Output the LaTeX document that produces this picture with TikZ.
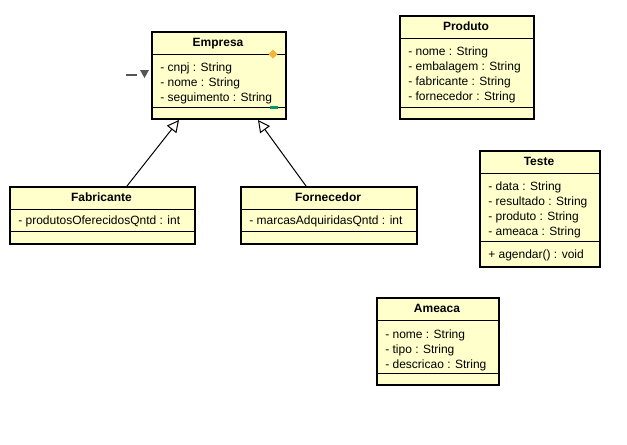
\documentclass[tikz,border=0pt]{standalone}
\usepackage{fontspec}
\setmainfont{Liberation Sans}
\usetikzlibrary{arrows.meta}
\definecolor{classfill}{HTML}{FFFFCC}
\definecolor{markgray}{HTML}{555555}
\definecolor{markorange}{HTML}{F8B334}
\definecolor{markgreen}{HTML}{009966}
\newcommand{\upx}{0.75pt}

\tikzset{
    classbox/.style={draw=black, line width=1.5pt, fill=classfill, inner sep=0pt, anchor=north west},
    sepline/.style={line width=0.75pt},
    classname/.style={font=\bfseries\fontsize{9}{11}\selectfont, inner sep=0pt, text height=1.5ex, text depth=0.25ex},
    member/.style={font=\fontsize{9}{11}\selectfont, anchor=west, inner sep=0pt, text height=1.5ex, text depth=0.25ex},
    inherit/.style={line width=0.75pt, -{Triangle[open, length=9pt, width=9pt]}},
}

\begin{document}
\begin{tikzpicture}[x=0.75pt, y=-0.75pt]
    \useasboundingbox (0,0) rectangle (627,444);

    % Class boxes
    \node[classbox, minimum width=134*\upx, minimum height=87*\upx] (empresa) at (151,31) {};
    \node[classbox, minimum width=134*\upx, minimum height=103*\upx] (produto) at (399,15) {};
    \node[classbox, minimum width=120*\upx, minimum height=116*\upx] (teste) at (479,150) {};
    \node[classbox, minimum width=185*\upx, minimum height=57*\upx] (fabricante) at (9,186) {};
    \node[classbox, minimum width=176*\upx, minimum height=57*\upx] (fornecedor) at (240,186) {};
    \node[classbox, minimum width=122*\upx, minimum height=87*\upx] (ameaca) at (376,297) {};

    % Compartment lines
    \draw[sepline] (151,54) -- (285,54) (151,107) -- (285,107);
    \draw[sepline] (399,38) -- (533,38) (399,107) -- (533,107);
    \draw[sepline] (479,173) -- (599,173) (479,241) -- (599,241);
    \draw[sepline] (9,209) -- (194,209) (9,231) -- (194,231);
    \draw[sepline] (240,209) -- (416,209) (240,231) -- (416,231);
    \draw[sepline] (376,320) -- (498,320) (376,373) -- (498,373);

    % Class names
    \node[classname] (empresaT) at (218,42.5) {Empresa};
    \node[classname] (produtoT) at (466,26.5) {Produto};
    \node[classname] (testeT) at (539,161.5) {Teste};
    \node[classname] (fabricanteT) at (101.5,197.5) {Fabricante};
    \node[classname] (fornecedorT) at (328,197.5) {Fornecedor};
    \node[classname] (ameacaT) at (437,308.5) {Ameaca};

    % Attributes and operations
    \foreach \a [count=\i from 0] in {- cnpj : String, - nome : String, - seguimento : String}
        \node[member] at (160,67+15*\i) {\a};
    \foreach \a [count=\i from 0] in {- nome : String, - embalagem : String, - fabricante : String, - fornecedor : String}
        \node[member] at (408,51+15*\i) {\a};
    \foreach \a [count=\i from 0] in {- data : String, - resultado : String, - produto : String, - ameaca : String}
        \node[member] at (488,186+15*\i) {\a};
    \node[member] (agendar) at (488,254) {+ agendar() : void};
    \node[member] (fabAttr) at (18,220.5) {- produtosOferecidosQntd : int};
    \node[member] (fornAttr) at (249,220.5) {- marcasAdquiridasQntd : int};
    \foreach \a [count=\i from 0] in {- nome : String, - tipo : String, - descricao : String}
        \node[member] at (385,334+15*\i) {\a};

    % Generalizations
    \draw[inherit] ([xshift=24.5*\upx]fabricante.north) -- ([xshift=-40*\upx]empresa.south);
    \draw[inherit] ([xshift=-23*\upx]fornecedor.north) -- ([xshift=39*\upx]empresa.south);

    % Editor marks on Empresa
    \draw[markgray, line width=1.5pt] (126,75) -- (137,75);
    \fill[markgray] (140,70) -- (149,70) -- (144.5,78) -- cycle;
    \fill[markorange] (268.5,54) -- (273,49.5) -- (277.5,54) -- (273,58.5) -- cycle;
    \fill[markgreen] (270,105.5) rectangle (278,108.5);

\end{tikzpicture}
\end{document}
